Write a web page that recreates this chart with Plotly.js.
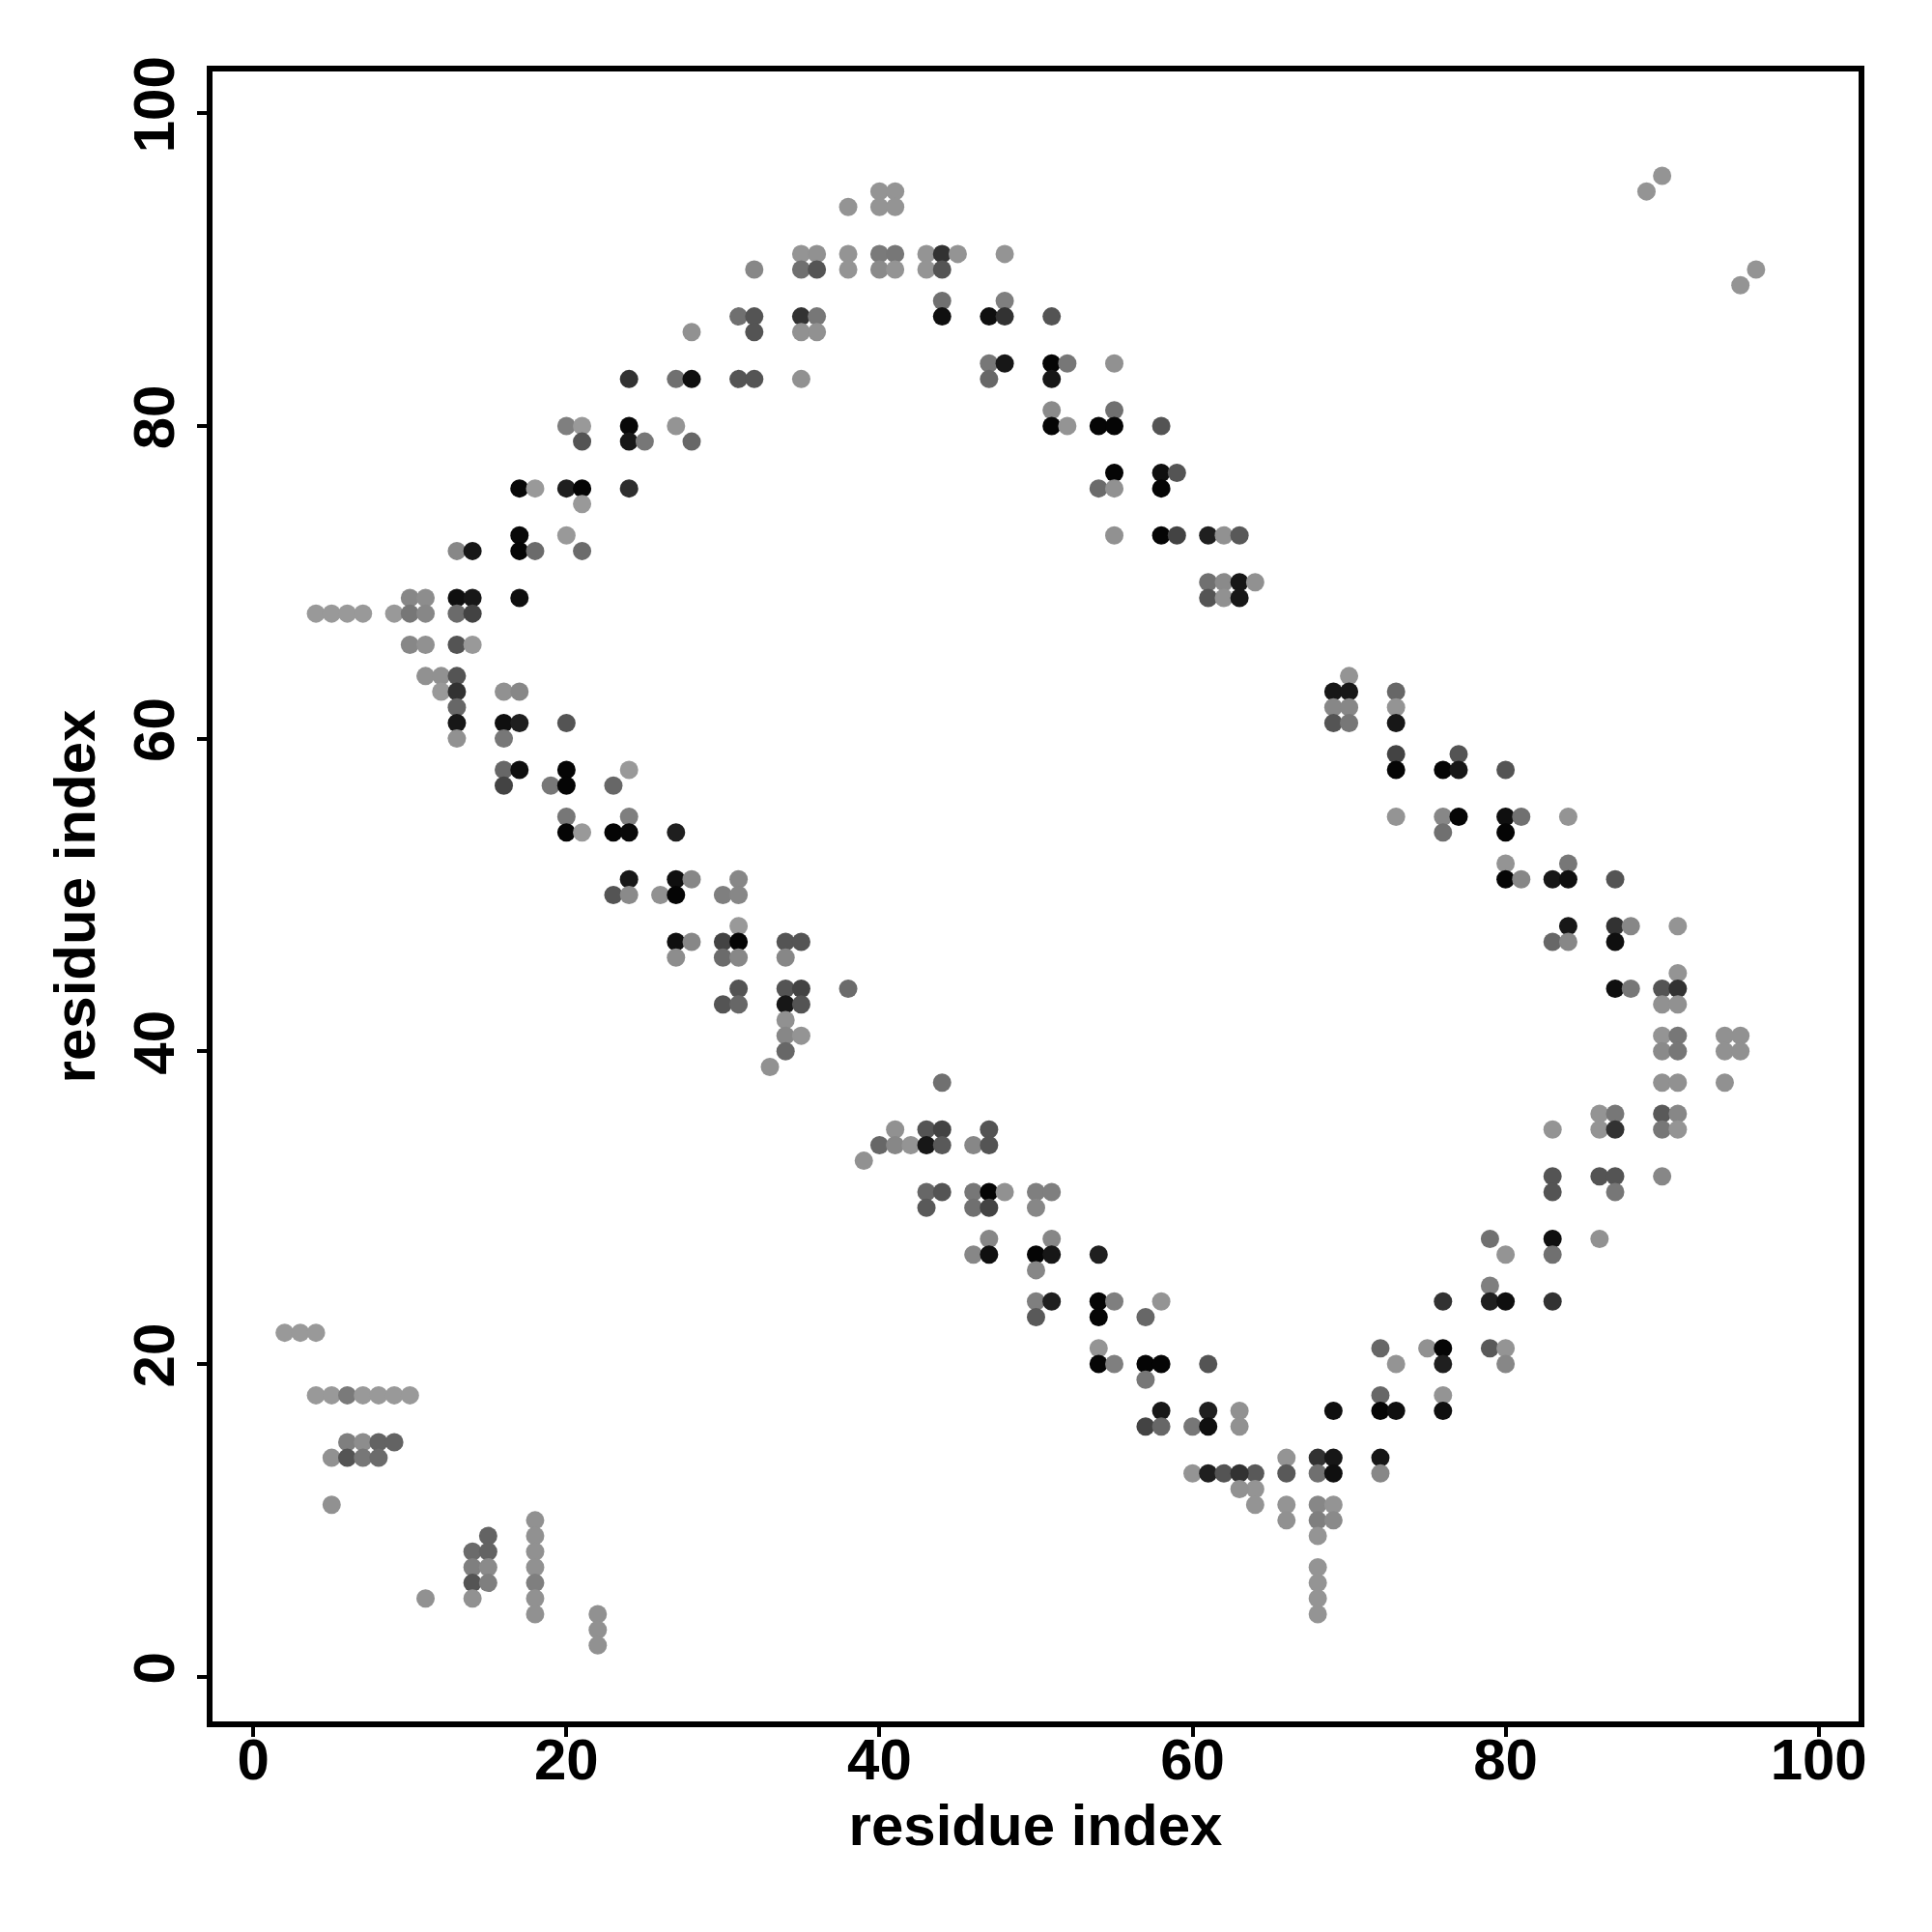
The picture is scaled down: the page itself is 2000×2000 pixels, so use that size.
<!DOCTYPE html>
<html>
<head>
<meta charset="utf-8">
<script src="https://cdn.plot.ly/plotly-3.0.1.min.js"></script>
<style>
  html, body { margin: 0; padding: 0; background: #ffffff; }
  #chart { width: 2000px; height: 2000px; }
</style>
</head>
<body>
<div id="chart"></div>
<script>
// residue i (x), residue j (y), contact shade (0 = light grey, 1 = black)
const residueI = [
  2,3,4, 4,5,6,7,8,9,10, 6,7,8,9, 5,6,7,8, 5, 11,
  14,14,14,14, 15,15,15,15, 18,18,18,18,18,18,18, 22,22,22,
  20,21,24, 21,24, 17,18,20,21,24, 21, 17,20, 13,14,17,18,21,
  10,11,13,14,17, 4,5,6,7,9,10,11,13,14, 10,11,13,14, 11,12,13,
  12,13,16,17, 13, 13,16,17,20, 13,16, 16,17,20,24, 16,19,20,23, 20,24,
  20,21,23,24,27, 24,27,28,31, 23,24,26,27,30,31, 31,
  27,28,30,31,34,35, 27,30,31,34, 31,34,35,38, 30,31,34,35, 34, 34,35, 34, 33,
  40,41, 38,40,41, 35,36,38,40,41,43,44,45,48, 32,35,36,38,40,41,43,44,
  44,48, 31,32,35,36,44,47,48, 28,32,35,36, 47,48, 24,27,28,31,32,35,47,
  27, 25,28,
  51, 51,52,55, 51, 51,55, 51,52,54,55,58, 55,58,59, 54,55,58,
  55,58,59,61,62,63, 61,62,63,64, 61,62,63, 70, 69,70,73, 69,70,73, 69,70,73,
  73,77, 73,76,77,80, 73,76,77,80,81,84, 76,80, 80,84, 80,81,83,84,87,
  84,87,88,91, 83,84,87, 91, 87,88,90,91, 90,91,
  90,91,94,95, 90,91,94,95, 90,91,94, 86,87,90,91, 83,86,87,90,91,
  83,86,87,90, 83,87, 79,83,86, 80,83, 79, 76,79,80,83,
  72,75,76,79,80, 73,76,80, 72,76, 69,72,73,76, 66,68,69,72,
  64,66,68,69,72, 64, 64,66,68,69, 66,68,69, 68, 68,68,68,68,
  44, 41,43,44,47, 40,41,42,43,44,46,47, 39, 43,44,46,47,48,50,51,
  43,46,47,50, 47,51, 46,47,50,51,54, 50, 50,51,54,55,58, 50,54,57,
  54, 54,55,57,58,61, 57, 58,61,63, 57,58,60,61,63, 60,61,62,63, 63,
  89,90,95,96
];
const residueJ = [
  22,22,22, 18,18,18,18,18,18,18, 15,15,15,15, 14,14,14,14, 11, 5,
  8,7,6,5, 9,8,7,6, 10,9,8,7,6,5,4, 4,3,2,
  80,80,80, 79,79, 76,76,76,76,76, 75, 73,73, 72,72,72,72,72,
  69,69,69,69,69, 68,68,68,68,68,68,68,68,68, 66,66,66,66, 64,64,64,
  63,63,63,63, 62, 61,61,61,61, 60,60, 58,58,58,58, 57,57,57,57, 55,55,
  54,54,54,54,54, 51,51,51,51, 50,50,50,50,50,50, 48,
  47,47,47,47,47,47, 46,46,46,46, 44,44,44,44, 43,43,43,43, 42, 41,41, 40, 39,
  95,95, 94,94,94, 91,91,91,91,91,91,91,91,91, 90,90,90,90,90,90,90,90,
  88,88, 87,87,87,87,87,87,87, 86,86,86,86, 84,84, 83,83,83,83,83,83,83,
  80, 79,79,
  87, 84,84,84, 83, 81,81, 80,80,80,80,80, 77,77,77, 76,76,76,
  73,73,73,73,73,73, 70,70,70,70, 69,69,69, 64, 63,63,63, 62,62,62, 61,61,61,
  59,59, 58,58,58,58, 55,55,55,55,55,55, 54,54, 52,52, 51,51,51,51,51,
  48,48,48,48, 47,47,47, 45, 44,44,44,44, 43,43,
  41,41,41,41, 40,40,40,40, 38,38,38, 36,36,36,36, 35,35,35,35,35,
  32,32,32,32, 31,31, 28,28,28, 27,27, 25, 24,24,24,24,
  21,21,21,21,21, 20,20,20, 18,18, 17,17,17,17, 14,14,14,14,
  13,13,13,13,13, 12, 11,11,11,11, 10,10,10, 9, 7,6,5,4,
  38, 35,35,35,35, 34,34,34,34,34,34,34, 33, 31,31,31,31,31,31,31,
  30,30,30,30, 28,28, 27,27,27,27,27, 26, 24,24,24,24,24, 23,23,23,
  21, 20,20,20,20,20, 19, 17,17,17, 16,16,16,16,16, 13,13,13,13, 12,
  95,96,89,90
];
const contactShade = [
  0,0,0, 0,0,0.2,0,0,0,0, 0.17,0.08,0.35,0.35, 0.05,0.45,0.22,0.3, 0.05, 0.05,
  0.3,0.17,0.45,0.05, 0.35,0.35,0.1,0.17, 0.05,0.05,0.05,0.05,0.17,0.05,0.05, 0.05,0.05,0.05,
  0.17,0,0.95, 0.45,0.85, 0.95,0,0.8,0.97,0.7, 0, 0.95,0, 0.12,0.85,0.97,0.3,0.3,
  0.12,0.08,0.9,0.85,0.9, 0,0,0,0,0,0.22,0.12,0.3,0.56, 0.12,0.05,0.45,0, 0.05,0.05,0.45,
  0,0.67,0.05,0.12, 0.33, 0.85,0.9,0.8,0.45, 0.05,0.22, 0.33,0.9,0.97,0, 0.56,0.22,0.97,0.33, 0.22,0.17,
  0.97,0,0.97,0.95,0.8, 0.85,0.9,0.12,0.12, 0.45,0.1,0.05,0.97,0.17,0.12, 0,
  0.9,0.12,0.56,0.97,0.45,0.45, 0.08,0.3,0.12,0.12, 0.45,0.45,0.56,0.3, 0.45,0.33,0.85,0.45, 0.05, 0.12,0.03, 0.33, 0.05,
  0.03,0.03, 0.03,0.03,0.03, 0.03,0.05,0.03,0.2,0.22,0.03,0.67,0.03,0.03, 0.12,0.27,0.45,0.03,0.1,0.03,0.03,0.45,
  0.27,0.17, 0.27,0.45,0.67,0.22,0.9,0.9,0.67, 0.05,0.45,0.05,0.05, 0.22,0.85, 0.67,0.27,0.9,0.45,0.45,0.05,0.33,
  0.03, 0.22,0.33,
  0.45, 0.97,0.22,0.05, 0.85, 0.1,0.27, 0.97,0.03,0.97,0.97,0.45, 0.97,0.9,0.45, 0.3,0.05,0.97,
  0.05,0.97,0.56,0.8,0.05,0.42, 0.27,0.1,0.85,0.05, 0.45,0.05,0.85, 0.03, 0.85,0.85,0.33, 0.12,0.12,0.03, 0.45,0.22,0.85,
  0.56,0.45, 0.97,0.97,0.85,0.45, 0.03,0.12,0.97,0.9,0.27,0.03, 0.27,0.97, 0.03,0.22, 0.97,0.12,0.85,0.9,0.45,
  0.85,0.67,0.12,0.03, 0.33,0.12,0.9, 0.03, 0.9,0.22,0.45,0.67, 0.05,0.05,
  0.03,0.22,0.05,0.05, 0.1,0.22,0.05,0.05, 0.05,0.05,0.05, 0.03,0.22,0.42,0.12, 0.03,0.03,0.67,0.22,0.03,
  0.45,0.45,0.45,0.12, 0.45,0.22, 0.27,0.9,0.05, 0.03,0.27, 0.17, 0.67,0.8,0.9,0.67,
  0.33,0.05,0.97,0.42,0.03, 0.03,0.8,0.12, 0.33,0.03, 0.9,0.97,0.9,0.9, 0.03,0.67,0.85,0.85,
  0.42,0.42,0.27,0.9,0.12, 0.03, 0.03,0.03,0.12,0.03, 0.05,0.17,0.1, 0.03, 0.03,0.03,0.03,0.03,
  0.27, 0.05,0.45,0.56,0.45, 0.33,0.12,0.03,0.85,0.42,0.12,0.45, 0.05, 0.33,0.45,0.22,0.97,0.05,0.17,0.17,
  0.42,0.27,0.56,0.12, 0.12,0.12, 0.12,0.9,0.97,0.85,0.8, 0.12, 0.17,0.8,0.97,0.17,0.03, 0.42,0.97,0.33,
  0.03, 0.97,0.17,0.97,0.97,0.45, 0.22, 0.85,0.8,0.05, 0.56,0.33,0.22,0.9,0.05, 0.03,0.8,0.45,0.67, 0.05,
  0.03,0.03,0.03,0.03
];
const tickValues = [0, 20, 40, 60, 80, 100];
const axisTitle = 'residue index';

const fontFamily = '"Liberation Sans", Arial, Helvetica, sans-serif';

const trace = {
  type: 'scatter',
  mode: 'markers',
  x: residueI,
  y: residueJ,
  marker: {
    size: 19,
    color: contactShade,
    cmin: 0,
    cmax: 1,
    colorscale: [[0, 'rgb(153,153,153)'], [1, 'rgb(0,0,0)']],
    showscale: false,
    line: { width: 0 }
  },
  hoverinfo: 'x+y'
};

const axisCommon = {
  tickvals: tickValues,
  ticktext: tickValues.map(String),
  ticks: 'outside',
  ticklen: 10,
  tickwidth: 4,
  tickcolor: '#000',
  showline: true,
  mirror: true,
  linewidth: 6,
  linecolor: '#000',
  showgrid: false,
  zeroline: false,
  tickfont: { family: fontFamily, size: 60, color: '#000', weight: 'bold' }
};

const layout = {
  width: 2000,
  height: 2000,
  paper_bgcolor: '#ffffff',
  plot_bgcolor: '#ffffff',
  showlegend: false,
  margin: { l: 220, r: 76, t: 74, b: 218 },
  xaxis: Object.assign({}, axisCommon, {
    range: [-2.61, 102.55],
    title: { text: axisTitle, font: { family: fontFamily, size: 60, color: '#000', weight: 'bold' }, standoff: 16 },
    ticklabelstandoff: -28
  }),
  yaxis: Object.assign({}, axisCommon, {
    range: [-2.86, 102.67],
    tickangle: -90,
    title: { text: axisTitle, font: { family: fontFamily, size: 60, color: '#000', weight: 'bold' }, standoff: 10 },
    ticklabelstandoff: 0
  })
};

Plotly.newPlot('chart', [trace], layout, { staticPlot: true, displayModeBar: false });
</script>
</body>
</html>
